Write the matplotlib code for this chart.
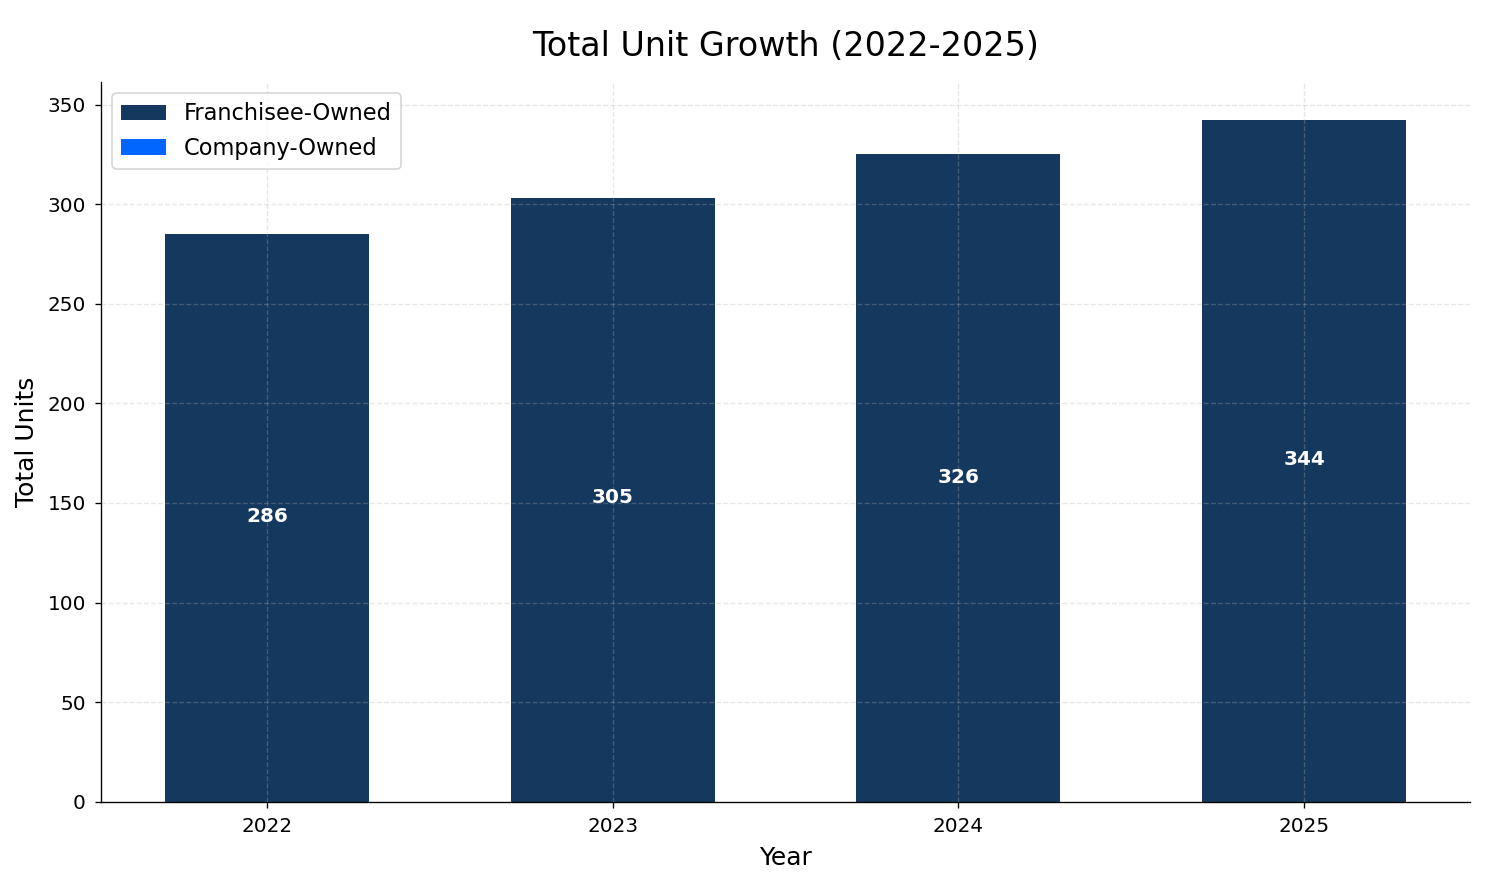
import matplotlib
matplotlib.use("Agg")
import matplotlib.pyplot as plt
import numpy as np

years = ["2022", "2023", "2024", "2025"]
franchisee = [285, 303, 325, 342]
company = [1, 2, 1, 2]

totals = [f + c for f, c in zip(franchisee, company)]
x = np.arange(len(years))

fig, ax = plt.subplots(figsize=(12.375, 7.3667), dpi=120)
b_comp = ax.bar(x, company, 0.59, color="#0066ff", label="Company-Owned", zorder=1)
b_fr = ax.bar(x, franchisee, 0.59, color="#15385f", label="Franchisee-Owned", zorder=1.5)

for xi, t in zip(x, totals):
    ax.text(xi, t / 2, str(t), ha="center", va="center", color="white",
            fontsize=12, fontweight="bold", zorder=3)

ax.set_xticks(x)
ax.set_xticklabels(years, fontsize=12)
ax.tick_params(axis="both", labelsize=12, pad=5.5)
ax.set_xlabel("Year", fontsize=15, labelpad=6)
ax.set_ylabel("Total Units", fontsize=15, labelpad=5)
ax.set_title("Total Unit Growth (2022-2025)", fontsize=20, pad=15.5)
ax.set_xlim(-0.48, len(years) - 1 + 0.48)
ax.set_ylim(0, max(totals) * 1.05)
ax.grid(True, linestyle="--", alpha=0.3, zorder=2)
ax.set_axisbelow(False)
ax.spines["top"].set_visible(False)
ax.spines["right"].set_visible(False)
ax.legend([b_fr, b_comp], ["Franchisee-Owned", "Company-Owned"], loc="upper left", fontsize=13.5)

fig.subplots_adjust(left=0.068, right=0.99, top=0.907, bottom=0.093)
fig.savefig("out.png", dpi=120)
